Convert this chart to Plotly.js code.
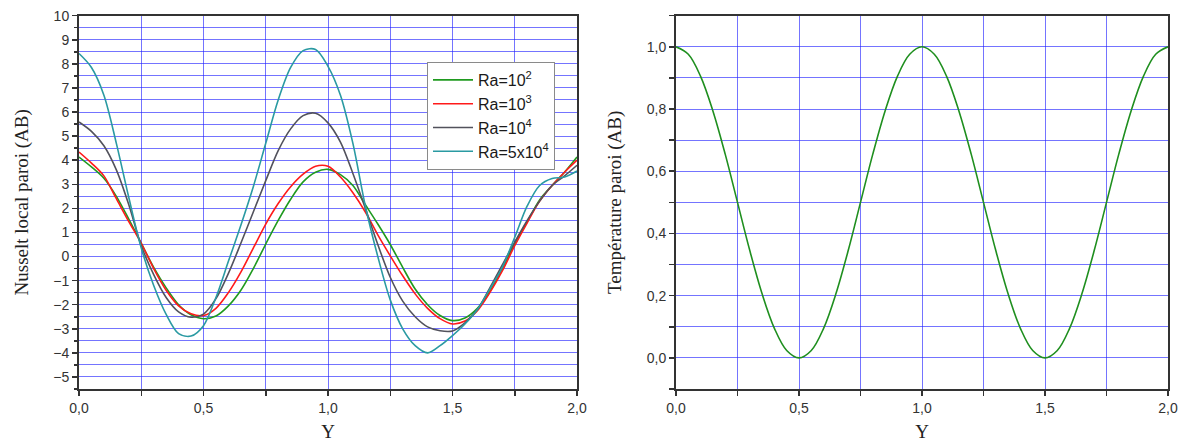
<!DOCTYPE html>
<html>
<head>
<meta charset="utf-8">
<script src="https://cdn.plot.ly/plotly-3.0.1.min.js"></script>
<style>
  html, body { margin: 0; padding: 0; background: #ffffff; }
  #chart { width: 1182px; height: 443px; }
</style>
</head>
<body>
<div id="chart"></div>
<script>
// Abscissa Y (shared by both panels)
const yPos = [0.00, 0.05, 0.10, 0.15, 0.20, 0.25, 0.30, 0.35, 0.40, 0.45,
              0.50, 0.55, 0.60, 0.65, 0.70, 0.75, 0.80, 0.85, 0.90, 0.95,
              1.00, 1.05, 1.10, 1.15, 1.20, 1.25, 1.30, 1.35, 1.40, 1.45,
              1.50, 1.55, 1.60, 1.65, 1.70, 1.75, 1.80, 1.85, 1.90, 1.95, 2.00];

// Local Nusselt number on wall AB
const nuRa1e2 = [4.13, 3.72, 3.25, 2.50, 1.55, 0.55, -0.45, -1.30, -2.00, -2.42,
                 -2.58, -2.47, -2.05, -1.40, -0.50, 0.52, 1.50, 2.38, 3.10, 3.50,
                 3.62, 3.40, 2.95, 2.15, 1.35, 0.50, -0.45, -1.35, -2.00, -2.45,
                 -2.66, -2.55, -2.15, -1.45, -0.50, 0.55, 1.45, 2.35, 2.95, 3.50, 4.13];
const nuRa1e3 = [4.34, 3.88, 3.35, 2.40, 1.45, 0.55, -0.50, -1.40, -2.05, -2.38,
                 -2.45, -2.15, -1.50, -0.65, 0.35, 1.35, 2.20, 2.90, 3.42, 3.75,
                 3.75, 3.30, 2.65, 1.85, 0.90, 0.03, -0.80, -1.55, -2.15, -2.58,
                 -2.80, -2.68, -2.25, -1.50, -0.60, 0.45, 1.40, 2.30, 2.95, 3.50, 4.00];
const nuRa1e4 = [5.59, 5.20, 4.60, 3.60, 2.15, 0.45, -0.75, -1.70, -2.30, -2.52,
                 -2.39, -1.75, -0.70, 0.55, 1.85, 3.15, 4.40, 5.30, 5.85, 5.95,
                 5.55, 4.75, 3.45, 2.00, 0.50, -0.86, -1.85, -2.50, -2.92, -3.08,
                 -3.09, -2.75, -2.20, -1.30, -0.35, 0.60, 1.50, 2.30, 2.95, 3.35, 3.79];
const nuRa5e4 = [8.43, 7.85, 6.70, 4.70, 2.45, 0.35, -1.20, -2.40, -3.20, -3.30,
                 -2.87, -1.70, -0.20, 1.30, 2.90, 4.70, 6.50, 7.85, 8.55, 8.60,
                 7.90, 6.70, 4.70, 2.10, 0.00, -1.80, -3.00, -3.70, -4.00, -3.70,
                 -3.28, -2.80, -2.20, -1.35, -0.45, 0.80, 2.10, 2.95, 3.24, 3.30, 3.55];

// Wall temperature on AB
const tempWall = [1.000, 0.976, 0.905, 0.794, 0.655, 0.500, 0.345, 0.206, 0.095, 0.024,
                  0.000, 0.024, 0.095, 0.206, 0.345, 0.500, 0.655, 0.794, 0.905, 0.976,
                  1.000, 0.976, 0.905, 0.794, 0.655, 0.500, 0.345, 0.206, 0.095, 0.024,
                  0.000, 0.024, 0.095, 0.206, 0.345, 0.500, 0.655, 0.794, 0.905, 0.976, 1.000];

const seriesNames = ['Ra=10<sup>2</sup>', 'Ra=10<sup>3</sup>', 'Ra=10<sup>4</sup>', 'Ra=5x10<sup>4</sup>'];
const seriesColors = ['#1f9a1f', '#ff1a1a', '#52525c', '#2a9aa2'];
const nuSeries = [nuRa1e2, nuRa1e3, nuRa1e4, nuRa5e4];

const W = 1182, H = 443;
const gridCol = 'rgba(30,30,255,0.62)';
const axisCol = '#333333';
const tickFont = {family: 'Liberation Sans, Arial, sans-serif', size: 14, color: '#333333'};
const titleFont = {family: 'Liberation Serif, Times New Roman, serif', size: 19, color: '#222222'};

const traces = nuSeries.map((vals, i) => ({
  type: 'scatter', mode: 'lines',
  x: yPos, y: vals, name: seriesNames[i],
  line: {color: seriesColors[i], width: 1.6, shape: 'spline', smoothing: 0.9},
  xaxis: 'x', yaxis: 'y'
}));
traces.push({
  type: 'scatter', mode: 'lines', x: yPos, y: tempWall, showlegend: false,
  line: {color: '#1f8f1f', width: 1.6, shape: 'spline', smoothing: 1.0},
  xaxis: 'x2', yaxis: 'y2'
});

const xCommon = {
  range: [0, 2], dtick: 0.5, tick0: 0, tickformat: '.1f',
  showgrid: true, gridcolor: gridCol, gridwidth: 1,
  showline: true, linecolor: axisCol, linewidth: 2, mirror: true,
  ticks: 'outside', ticklen: 5, tickwidth: 1.5, tickcolor: axisCol,
  minor: {dtick: 0.25, showgrid: true, gridcolor: gridCol, gridwidth: 1, ticks: 'outside', ticklen: 5, tickwidth: 1.5, tickcolor: axisCol},
  zeroline: false, tickfont: tickFont,
  title: {text: 'Y', font: titleFont, standoff: 10}
};

const layout = {
  width: W, height: H,
  margin: {l: 0, r: 0, t: 0, b: 0, pad: 0},
  paper_bgcolor: '#ffffff', plot_bgcolor: '#ffffff',
  separators: ', ',
  showlegend: true,
  xaxis: Object.assign({}, xCommon, {domain: [79 / W, 577 / W], anchor: 'y'}),
  xaxis2: Object.assign({}, xCommon, {domain: [676 / W, 1168 / W], anchor: 'y2'}),
  yaxis: {
    domain: [1 - 389 / H, 1 - 15.7 / H], anchor: 'x',
    range: [-5.5, 10], dtick: 1, tick0: 0,
    showgrid: true, gridcolor: gridCol, gridwidth: 1,
    showline: true, linecolor: axisCol, linewidth: 2, mirror: true,
    ticks: 'outside', ticklen: 5, tickwidth: 1.5, tickcolor: axisCol,
    minor: {dtick: 0.5, showgrid: true, gridcolor: gridCol, gridwidth: 1, ticks: 'outside', ticklen: 3, tickwidth: 1.5, tickcolor: axisCol},
    zeroline: false, tickfont: tickFont,
    title: {text: 'Nusselt local paroi (AB)', font: titleFont, standoff: 20}
  },
  yaxis2: {
    domain: [1 - 389 / H, 1 - 15.7 / H], anchor: 'x2',
    range: [-0.1, 1.1], dtick: 0.2, tick0: 0, tickformat: '.1f',
    showgrid: true, gridcolor: gridCol, gridwidth: 1,
    showline: true, linecolor: axisCol, linewidth: 2, mirror: true,
    ticks: 'outside', ticklen: 5, tickwidth: 1.5, tickcolor: axisCol,
    minor: {dtick: 0.1, showgrid: true, gridcolor: gridCol, gridwidth: 1, ticks: 'outside', ticklen: 5, tickwidth: 1.5, tickcolor: axisCol},
    zeroline: false, tickfont: tickFont,
    title: {text: 'Température paroi (AB)', font: titleFont, standoff: 20}
  },
  legend: {
    x: 427 / W, y: 1 - 62 / H, xanchor: 'left', yanchor: 'top',
    bgcolor: '#ffffff', bordercolor: '#8a8a8a', borderwidth: 1,
    font: {family: 'Liberation Sans, Arial, sans-serif', size: 16, color: '#1a1a1a'},
    itemwidth: 40, tracegroupgap: 0
  }
};

Plotly.newPlot('chart', traces, layout, {staticPlot: true, displayModeBar: false});
</script>
</body>
</html>
